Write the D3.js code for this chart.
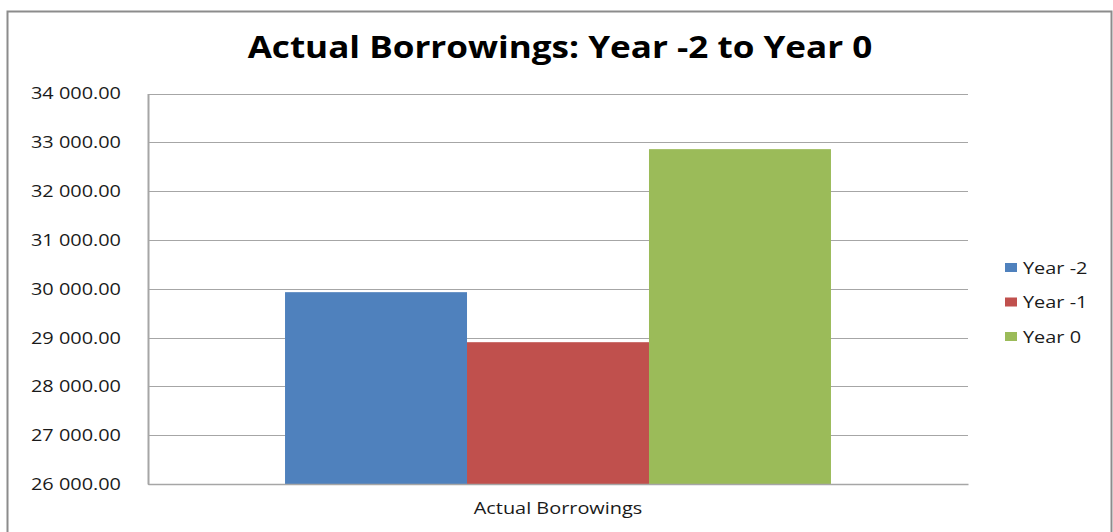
<!DOCTYPE html>
<html>
<head>
<meta charset="utf-8">
<script src="https://cdn.jsdelivr.net/npm/d3@7"></script>
<style>
  html, body { margin: 0; padding: 0; background: #fff; }
  svg { display: block; }
</style>
</head>
<body>
<svg id="chart" width="1113" height="532"></svg>
<script>
// Chart data
const categories = ["Actual Borrowings"];
const seriesNames = ["Year -2", "Year -1", "Year 0"];
const seriesValues = [29930, 28905, 32860];
const seriesColors = ["#4f81bd", "#c0504d", "#9bbb59"];
const yTicks = [26000, 27000, 28000, 29000, 30000, 31000, 32000, 33000, 34000];
const chartTitle = "Actual Borrowings: Year -2 to Year 0";

const svg = d3.select("#chart");
const font = "'Open Sans', 'Noto Sans', sans-serif";
const SX = 1.17; // horizontal widening applied to all text

// Outer frame
svg.append("rect")
  .attr("x", 7.5).attr("y", 11.5)
  .attr("width", 1104).attr("height", 540)
  .attr("fill", "#fff")
  .attr("stroke", "#8c8c8c").attr("stroke-width", 2);

const plot = { left: 148, top: 93.5, right: 968, bottom: 484 };

const x0 = d3.scaleBand()
  .domain(categories)
  .range([plot.left, plot.right])
  .paddingInner(0).paddingOuter(0.251);

const x1 = d3.scaleBand()
  .domain(seriesNames)
  .range([0, x0.bandwidth()])
  .padding(0);

const y = d3.scaleLinear()
  .domain([26000, 34000])
  .range([plot.bottom, plot.top]);

const fmt = v => d3.format(",.2f")(v).replace(/,/g, " ");

// Gridlines
svg.append("g")
  .selectAll("line")
  .data(yTicks)
  .join("line")
  .attr("x1", plot.left).attr("x2", plot.right)
  .attr("y1", d => Math.round(y(d)) + 0.5)
  .attr("y2", d => Math.round(y(d)) + 0.5)
  .attr("stroke", "#a6a6a6").attr("stroke-width", 1);

// Y axis
const yAxis = d3.axisLeft(y).tickValues(yTicks).tickFormat(fmt).tickSize(0).tickPadding(0);
const gy = svg.append("g").attr("transform", `translate(${plot.left},0)`).call(yAxis);
gy.select(".domain").attr("stroke", "#a6a6a6").attr("stroke-width", 2);
gy.selectAll("text")
  .attr("font-family", font).attr("font-size", 17).attr("fill", "#1a1a1a")
  .attr("x", 0)
  .attr("transform", `translate(-27,0) scale(${SX},1)`);

// Bars
const groups = svg.append("g")
  .selectAll("g")
  .data(categories)
  .join("g")
  .attr("transform", d => `translate(${x0(d)},0)`);

groups.selectAll("rect")
  .data(() => seriesNames.map((s, i) => ({ s, v: seriesValues[i], c: seriesColors[i] })))
  .join("rect")
  .attr("x", d => x1(d.s))
  .attr("width", x1.bandwidth())
  .attr("y", d => y(d.v))
  .attr("height", d => y(26000) - y(d.v))
  .attr("fill", d => d.c);

// X axis baseline and category label
const xAxis = d3.axisBottom(x0).tickSize(0).tickPadding(0);
const gx = svg.append("g").attr("transform", `translate(0,${plot.bottom})`).call(xAxis);
gx.select(".domain").attr("stroke", "#a6a6a6").attr("stroke-width", 1.5);
gx.selectAll("text")
  .attr("font-family", font).attr("font-size", 17).attr("fill", "#1a1a1a")
  .attr("y", 0).attr("dy", 0)
  .attr("transform", `translate(0,30) scale(${SX},1)`);

// Title
svg.append("text")
  .attr("transform", `translate(560,58) scale(${SX},1)`)
  .attr("text-anchor", "middle")
  .attr("font-family", font).attr("font-weight", "bold")
  .attr("font-size", 30).attr("fill", "#000")
  .text(chartTitle);

// Legend
const legend = svg.append("g").attr("transform", "translate(1005,267.5)");
const li = legend.selectAll("g")
  .data(seriesNames)
  .join("g")
  .attr("transform", (d, i) => `translate(0,${i * 34.5})`);
li.append("rect")
  .attr("x", 0).attr("y", -4.5).attr("width", 12).attr("height", 9)
  .attr("fill", (d, i) => seriesColors[i]);
li.append("text")
  .attr("transform", `translate(18,6) scale(${SX},1)`)
  .attr("font-family", font).attr("font-size", 17).attr("fill", "#1a1a1a")
  .text(d => d);
</script>
</body>
</html>
